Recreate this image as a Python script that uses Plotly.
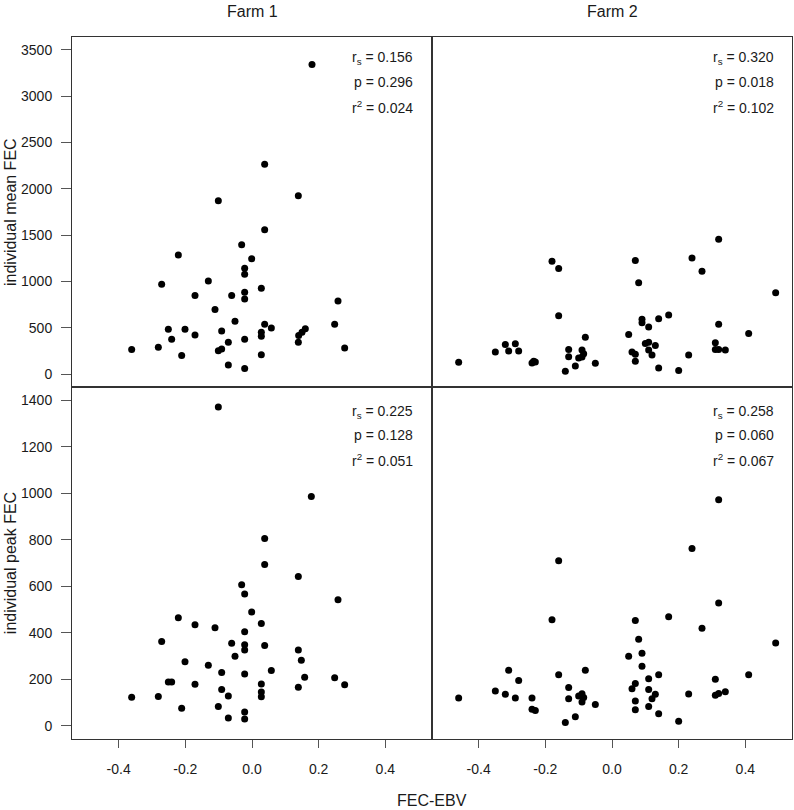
import plotly.graph_objects as go

# ---------------- data ----------------
farm1_mean_ebv = [0.180, 0.038, -0.101, 0.139, 0.038, -0.031, -0.221, -0.001, -0.022, -0.022,
                  -0.131, -0.271, 0.028, -0.022, -0.171, -0.061, -0.022, 0.258, -0.111, -0.051,
                  0.038, 0.248, 0.058, -0.251, -0.201, 0.160, 0.150, 0.140, 0.028, 0.028,
                  -0.091, -0.171, -0.241, -0.022, 0.139, -0.071, -0.361, -0.281, -0.101, -0.091,
                  0.278, -0.211, 0.028, -0.071, -0.022]
farm1_mean_fec = [3340, 2265, 1872, 1925, 1558, 1397, 1286, 1247, 1143, 1079,
                  1007, 972, 929, 886, 850, 850, 811, 790, 700, 572,
                  540, 540, 500, 486, 486, 490, 454, 418, 454, 411,
                  468, 425, 379, 379, 347, 347, 268, 293, 254, 272,
                  283, 204, 211, 100, 64]

farm1_peak_ebv = [-0.101, 0.178, 0.038, 0.038, 0.139, -0.031, -0.022, 0.258, -0.001, -0.221,
                  0.028, -0.171, -0.111, -0.022, -0.271, -0.061, -0.022, -0.022, 0.038, 0.139,
                  -0.051, 0.148, -0.201, -0.131, 0.058, -0.091, -0.022, 0.158, 0.248, -0.251,
                  -0.241, -0.171, 0.028, 0.278, 0.139, -0.091, 0.028, 0.028, -0.071, -0.361,
                  -0.281, -0.211, -0.101, -0.022, -0.071, -0.022]
farm1_peak_fec = [1371, 986, 806, 694, 643, 607, 567, 543, 490, 465,
                  441, 435, 422, 405, 363, 356, 349, 327, 346, 327,
                  300, 283, 276, 261, 239, 230, 223, 209, 207, 189,
                  189, 179, 180, 177, 167, 157, 146, 126, 129, 123,
                  127, 76, 84, 60, 34, 30]

farm2_mean_ebv = [0.320, -0.180, -0.160, 0.070, 0.240, 0.270, 0.080, 0.491, -0.160, 0.170,
                  0.090, 0.090, 0.140, 0.110, 0.320, 0.410, 0.050, -0.080, 0.100, 0.110,
                  0.130, 0.310, -0.320, -0.290, -0.350, -0.310, -0.280, -0.130, -0.130, -0.090,
                  -0.085, -0.100, -0.090, 0.060, 0.070, 0.070, 0.110, 0.120, 0.310, 0.320,
                  0.340, 0.230, -0.460, -0.240, -0.235, -0.230, -0.050, -0.110, -0.140, 0.140,
                  0.200]
farm2_mean_fec = [1457, 1218, 1140, 1226, 1254, 1111, 986, 879, 632, 640,
                  593, 557, 600, 511, 540, 439, 429, 400, 332, 347,
                  311, 340, 322, 329, 240, 251, 251, 268, 190, 261,
                  222, 176, 186, 240, 215, 140, 261, 208, 268, 268,
                  261, 208, 129, 122, 140, 133, 118, 90, 32, 68,
                  40]

farm2_peak_ebv = [0.320, 0.240, -0.160, 0.320, 0.170, -0.180, 0.070, 0.270, 0.080, 0.491,
                  0.050, 0.090, 0.090, -0.310, -0.080, -0.160, 0.140, 0.410, 0.110, 0.310,
                  -0.280, 0.070, 0.060, 0.110, -0.130, -0.350, -0.320, -0.290, -0.240, -0.130,
                  -0.100, -0.090, -0.085, -0.090, 0.130, 0.120, 0.230, 0.310, 0.320, 0.340,
                  -0.460, -0.050, 0.070, 0.070, 0.110, -0.240, -0.230, -0.110, -0.140, 0.140,
                  0.200]
farm2_peak_fec = [973, 763, 710, 529, 470, 457, 453, 420, 373, 357,
                  300, 313, 257, 240, 240, 220, 220, 220, 203, 201,
                  195, 183, 160, 157, 165, 150, 136, 120, 120, 117,
                  129, 139, 122, 103, 136, 117, 137, 132, 140, 147,
                  120, 92, 107, 70, 84, 72, 66, 40, 15, 53,
                  20]

farm_titles = ["Farm 1", "Farm 2"]
row_titles = ["individual mean FEC", "individual peak FEC"]
x_title = "FEC-EBV"
stats = [["0.156", "0.296", "0.024"], ["0.320", "0.018", "0.102"],
         ["0.225", "0.128", "0.051"], ["0.258", "0.060", "0.067"]]
x_ticks = [-0.4, -0.2, 0.0, 0.2, 0.4]
y_ticks_mean = [0, 500, 1000, 1500, 2000, 2500, 3000, 3500]
y_ticks_peak = [0, 200, 400, 600, 800, 1000, 1200, 1400]

# ---------------- layout geometry ----------------
W, H = 794, 810
X0, XM, X1 = 72, 432, 792
Y0, YM, Y1 = 36.7, 387.3, 739


def px(x):
    return x / W


def py(y):
    return 1 - y / H


FONT = "Liberation Sans, Arial, Helvetica, sans-serif"
TXT = "#1a1a1a"
LINE = "#333333"

fig = go.Figure()
panels = [
    (farm1_mean_ebv, farm1_mean_fec, "x", "y"),
    (farm2_mean_ebv, farm2_mean_fec, "x2", "y2"),
    (farm1_peak_ebv, farm1_peak_fec, "x3", "y3"),
    (farm2_peak_ebv, farm2_peak_fec, "x4", "y4"),
]
for xs, ys, xa, ya in panels:
    fig.add_trace(go.Scatter(x=xs, y=ys, mode="markers", xaxis=xa, yaxis=ya,
                             marker=dict(color="black", size=7, line=dict(width=0)),
                             showlegend=False, hoverinfo="x+y"))

xdoms = [[px(X0), px(XM)], [px(XM), px(X1)]]
ydoms = [[py(YM), py(Y0)], [py(Y1), py(YM)]]

common_axis = dict(showgrid=False, zeroline=False, showline=True, linecolor=LINE,
                   linewidth=1, mirror=True, tickfont=dict(family=FONT, size=14, color=TXT),
                   tickcolor="#555555", tickwidth=1)

layout = dict(width=W, height=H, margin=dict(l=0, r=0, t=0, b=0),
              paper_bgcolor="white", plot_bgcolor="white", showlegend=False)

for i in range(4):
    r, c = divmod(i, 2)
    sfx = "" if i == 0 else str(i + 1)
    xa = dict(common_axis, domain=xdoms[c], range=[-0.54, 0.54], anchor="y" + sfx,
              tickvals=x_ticks, ticktext=["-0.4", "-0.2", "0.0", "0.2", "0.4"])
    if r == 1:
        xa.update(ticks="outside", ticklen=8, showticklabels=True, ticklabelstandoff=9)
    else:
        xa.update(ticks="", showticklabels=False)
    yvals = y_ticks_mean if r == 0 else y_ticks_peak
    yrange = [-140, 3640] if r == 0 else [-56, 1456]
    ya = dict(common_axis, domain=ydoms[r], range=yrange, anchor="x" + sfx,
              tickvals=yvals, ticktext=[str(v) for v in yvals])
    if c == 0:
        ya.update(ticks="outside", ticklen=10, showticklabels=True, ticklabelstandoff=6)
    else:
        ya.update(ticks="", showticklabels=False)
    layout["xaxis" + sfx] = xa
    layout["yaxis" + sfx] = ya

annotations = []
# column titles
for c, t in enumerate(farm_titles):
    cx = (X0 + XM) / 2 if c == 0 else (XM + X1) / 2
    annotations.append(dict(x=px(cx), y=py(11), xref="paper", yref="paper", text=t,
                            showarrow=False, xanchor="center", yanchor="middle",
                            font=dict(family=FONT, size=16, color=TXT)))
# row titles
for r, t in enumerate(row_titles):
    cy = (Y0 + YM) / 2 if r == 0 else (YM + Y1) / 2
    annotations.append(dict(x=px(10), y=py(cy), xref="paper", yref="paper", text=t,
                            showarrow=False, textangle=-90, xanchor="center", yanchor="middle",
                            font=dict(family=FONT, size=16, color=TXT)))
# x title
annotations.append(dict(x=px((X0 + X1) / 2), y=py(800), xref="paper", yref="paper", text=x_title,
                        showarrow=False, xanchor="center", yanchor="middle",
                        font=dict(family=FONT, size=16, color=TXT)))
# stats text
for i, (rs, p, r2) in enumerate(stats):
    r, c = divmod(i, 2)
    xr = 415 if c == 0 else 776
    ys = [58, 82, 107] if r == 0 else [412, 435, 460]
    lines = [f"r<sub>s</sub> = {rs}", f"p = {p}", f"r<sup>2</sup> = {r2}"]
    for yy, t in zip(ys, lines):
        annotations.append(dict(x=px(xr), y=py(yy), xref="paper", yref="paper", text=t,
                                showarrow=False, xanchor="right", yanchor="middle",
                                font=dict(family=FONT, size=14, color=TXT)))

layout["annotations"] = annotations
fig.update_layout(**layout)
fig.write_html("out.html", config={"displayModeBar": False},
               post_script="document.body.style.margin='0px';document.body.style.overflow='hidden';")
